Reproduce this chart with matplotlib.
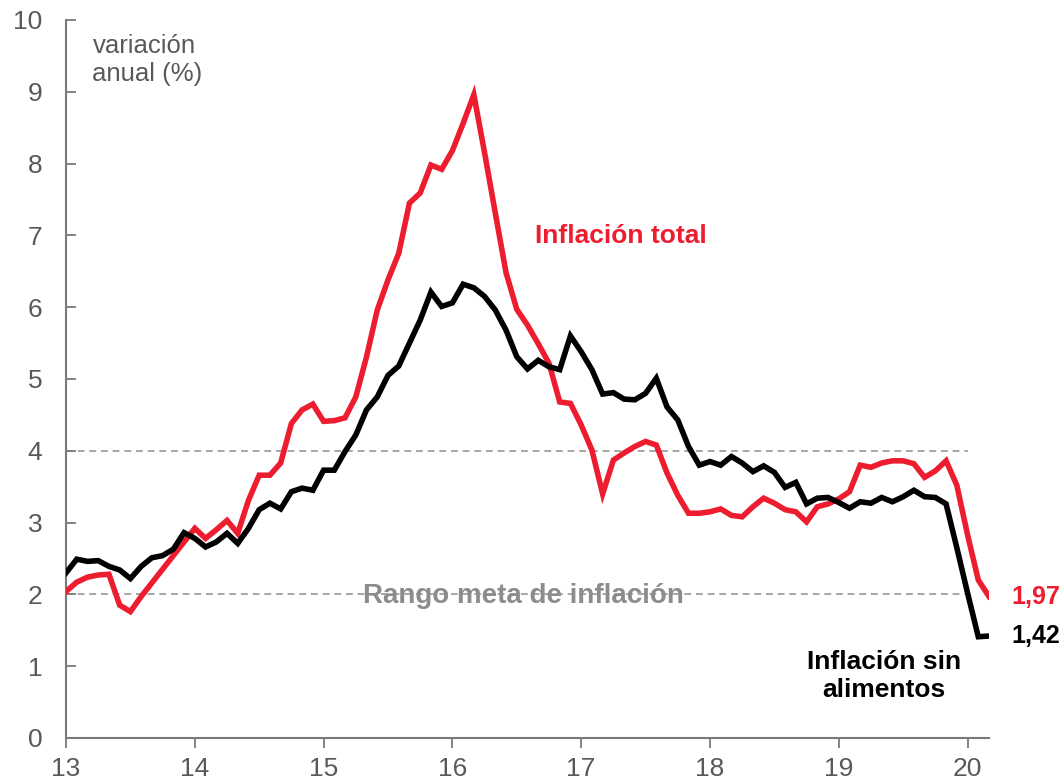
import numpy as np
import matplotlib
matplotlib.use("Agg")
import matplotlib.pyplot as plt

plt.rcParams['font.family'] = ['Liberation Sans', 'DejaVu Sans']

start_year = 13
inflacion_total = [
    2.04, 2.17, 2.24, 2.27, 2.28, 1.85, 1.76, 1.97, 2.16, 2.35, 2.54, 2.73,
    2.92, 2.78, 2.90, 3.03, 2.85, 3.31, 3.66, 3.66, 3.83, 4.38, 4.57, 4.65,
    4.41, 4.42, 4.46, 4.75, 5.31, 5.96, 6.38, 6.75, 7.45, 7.59, 7.98, 7.92,
    8.18, 8.56, 8.96, 8.15, 7.31, 6.48, 5.97, 5.75, 5.49, 5.22, 4.68, 4.66,
    4.36, 4.01, 3.40, 3.87, 3.97, 4.06, 4.13, 4.08, 3.69, 3.38, 3.13, 3.13,
    3.15, 3.19, 3.10, 3.08, 3.22, 3.34, 3.27, 3.18, 3.15, 3.01, 3.22, 3.26,
    3.33, 3.43, 3.80, 3.77, 3.83, 3.86, 3.86, 3.82, 3.63, 3.72, 3.86, 3.52,
    2.83, 2.20, 1.97,
]
inflacion_sin_alimentos = [
    2.30, 2.49, 2.46, 2.47, 2.39, 2.34, 2.22, 2.39, 2.51, 2.54, 2.63, 2.86,
    2.78, 2.66, 2.73, 2.85, 2.71, 2.92, 3.18, 3.27, 3.19, 3.43, 3.48, 3.45,
    3.73, 3.73, 3.99, 4.22, 4.57, 4.75, 5.05, 5.18, 5.50, 5.82, 6.21, 6.01,
    6.06, 6.32, 6.27, 6.15, 5.96, 5.68, 5.31, 5.14, 5.26, 5.17, 5.13, 5.60,
    5.38, 5.13, 4.79, 4.81, 4.72, 4.71, 4.80, 5.01, 4.61, 4.43, 4.06, 3.80,
    3.85, 3.80, 3.92, 3.83, 3.71, 3.79, 3.70, 3.49, 3.56, 3.26, 3.34, 3.35,
    3.28, 3.20, 3.29, 3.27, 3.35, 3.29, 3.36, 3.45, 3.36, 3.35, 3.26, 2.65,
    2.02, 1.41, 1.42,
]
rango_meta = [2, 4]
x_ticks = [13, 14, 15, 16, 17, 18, 19, 20]
y_ticks = list(range(0, 11))

months = np.arange(len(inflacion_total))
x = start_year + months / 12.0

RED = '#ED1C2E'
GREY_TXT = '#595959'
SPINE = '#7a7a7a'

fig = plt.figure(figsize=(10.63, 7.84), dpi=100)
ax = fig.add_axes([0.0621, 0.0587, 0.9304 - 0.0621, 0.9745 - 0.0587])

for lvl in rango_meta:
    ax.plot([start_year, 20], [lvl, lvl], color='#a6a6a6', lw=1.4,
            ls=(0, (3.5, 2.5)), zorder=1)

ax.plot(x, inflacion_total, color=RED, lw=4, zorder=3, solid_joinstyle='miter')
ax.plot(x, inflacion_sin_alimentos, color='black', lw=4, zorder=4, solid_joinstyle='miter')

ax.set_xlim(13, x[-1])
ax.set_ylim(0, 10)
ax.set_xticks(x_ticks)
ax.set_xticklabels([str(t) for t in x_ticks])
ax.set_yticks(y_ticks)

for s in ['top', 'right']:
    ax.spines[s].set_visible(False)
for s in ['left', 'bottom']:
    ax.spines[s].set_color(SPINE)
    ax.spines[s].set_linewidth(1.5)
ax.tick_params(axis='both', colors=SPINE, labelcolor=GREY_TXT, labelsize=19,
               length=7, width=1.3)
ax.tick_params(axis='x', direction='out', pad=7)
ax.tick_params(axis='y', direction='in', pad=17)

ax.text(13.205, 9.80, 'variación\nanual (%)', color=GREY_TXT, fontsize=18.5,
        ha='left', va='top', linespacing=1.2)
ax.text(17.31, 6.99, 'Inflación total', color=RED, fontsize=19,
        fontweight='bold', ha='center', va='center')
ax.text(16.55, 1.98, 'Rango meta de inflación', color='#8c8c8c', fontsize=20,
        fontweight='bold', ha='center', va='center', zorder=2)
ax.text(19.35, 0.86, 'Inflación sin\nalimentos', color='black', fontsize=19,
        fontweight='bold', ha='center', va='center', linespacing=1.2)
ax.text(20.34, inflacion_total[-1], '1,97', color=RED, fontsize=18,
        fontweight='bold', ha='left', va='center', clip_on=False)
ax.text(20.34, inflacion_sin_alimentos[-1], '1,42', color='black', fontsize=18,
        fontweight='bold', ha='left', va='center', clip_on=False)

fig.savefig('out.png', dpi=100)
